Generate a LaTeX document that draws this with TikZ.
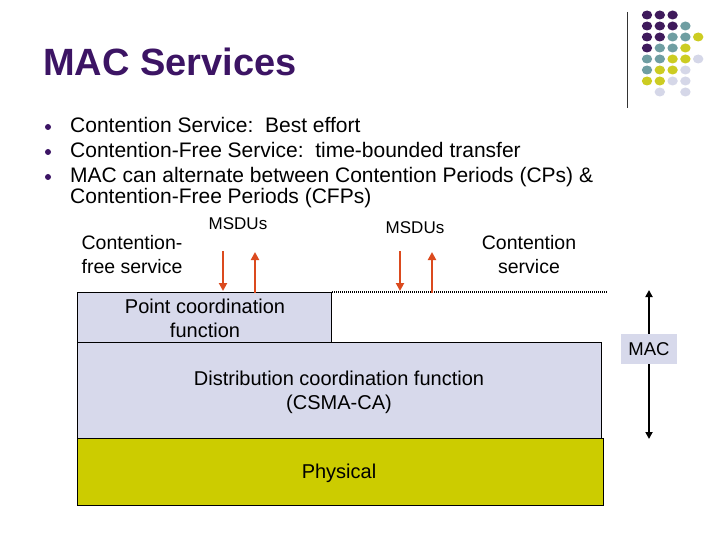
\documentclass[tikz,border=0pt]{standalone}
\usepackage{fontspec}
\setmainfont{Liberation Sans}
\usetikzlibrary{arrows.meta}
\definecolor{tpurple}{HTML}{3C1464}
\definecolor{dpurple}{HTML}{3F1A5C}
\definecolor{dteal}{HTML}{6F9EA2}
\definecolor{dyellow}{HTML}{CCCC22}
\definecolor{dlight}{HTML}{D5D7E8}
\definecolor{lav}{HTML}{D7D9EB}
\definecolor{phyyel}{HTML}{CCCC00}
\definecolor{arrred}{HTML}{DB4A1E}
\tikzset{
  bulletdot/.style={fill=tpurple, draw=none},
  bullettext/.style={anchor=base west, inner sep=0pt, font=\fontsize{21}{24}\selectfont},
  layerbox/.style={draw=black, line width=1.3pt, anchor=north west, inner sep=0pt, align=center, font=\fontsize{20}{24}\selectfont},
  lbl/.style={align=center, inner sep=0pt, font=\fontsize{19.5}{24}\selectfont},
  msdu/.style={inner sep=0pt, font=\fontsize{17}{20}\selectfont},
  flowarrow/.style={draw=arrred, line width=2.2pt, -{Triangle[length=8pt,width=8pt]}},
  macarrow/.style={draw=black, line width=1.8pt, {Triangle[length=7pt,width=7pt]}-{Triangle[length=7pt,width=7pt]}},
}
\begin{document}
\begin{tikzpicture}[x=1pt,y=-1pt]
\useasboundingbox (0,0) rectangle (720,540);
% decoration
\draw[line width=0.9pt, black!80] (627,12) -- (627,108);
\foreach \c/\r/\k in {1/1/dpurple,2/1/dpurple,3/1/dpurple,
  1/2/dpurple,2/2/dpurple,3/2/dpurple,4/2/dteal,
  1/3/dpurple,2/3/dpurple,3/3/dteal,4/3/dteal,5/3/dyellow,
  1/4/dpurple,2/4/dteal,3/4/dteal,4/4/dyellow,
  1/5/dteal,2/5/dteal,3/5/dyellow,4/5/dyellow,5/5/dlight,
  1/6/dteal,2/6/dyellow,3/6/dyellow,4/6/dlight,
  1/7/dyellow,2/7/dyellow,3/7/dlight,4/7/dlight,
  2/8/dlight,4/8/dlight}
  \fill[\k] ({647+12.8*(\c-1)},{15+11*(\r-1)}) ellipse [x radius=5.2pt, y radius=4.5pt];
% title
\node[anchor=base west, inner sep=0pt, text=tpurple, font=\fontsize{38}{44}\selectfont\bfseries] (title) at (43,76) {MAC Services};
% bullets
\fill[bulletdot] (48,127) circle (3pt);
\fill[bulletdot] (48,152) circle (3pt);
\fill[bulletdot] (48,177) circle (3pt);
\node[bullettext] (b1) at (70,133) {Contention Service:\ \ Best effort};
\node[bullettext] (b2) at (70,158) {Contention-Free Service:\ \ time-bounded transfer};
\node[bullettext] (b3) at (70,183) {MAC can alternate between Contention Periods (CPs) \&};
\node[bullettext] (b4) at (70,204) {Contention-Free Periods (CFPs)};
% labels
\node[lbl] (cfs) at (132,255) {Contention-\\free service};
\node[lbl] (cs) at (529,255) {Contention\\service};
\node[msdu] (m1) at (238,224) {MSDUs};
\node[msdu] (m2) at (415,228) {MSDUs};
% layers
\node[layerbox, fill=lav, minimum width=254pt, minimum height=50pt] (pcf) at (77,292) {};
\node[lbl, font=\fontsize{20}{24}\selectfont] (pcft) at (205,318) {Point coordination\\function};
\node[layerbox, fill=lav, minimum width=524pt, minimum height=96pt] (dcf) at (77,342) {};
\node[lbl, font=\fontsize{20}{24}\selectfont] (dcft) at (339,392) {Distribution coordination function\\(CSMA-CA)};
\node[layerbox, fill=phyyel, minimum width=526pt, minimum height=67pt] (phy) at (77,438) {};
\node[lbl, font=\fontsize{20}{24}\selectfont] (phyt) at (339,473) {Physical};
% dotted boundary
\coordinate (dotend) at (607,292);
\draw[line width=1.2pt, dash pattern=on 1pt off 1pt] (pcf.north east) -- (dotend);
% MSDU arrows
\coordinate (a1s) at (223,251);
\coordinate (a1e) at (223,291);
\coordinate (a2s) at (255,293);
\coordinate (a2e) at (255,252);
\coordinate (a3s) at (400,251);
\coordinate (a3e) at (400,291);
\coordinate (a4s) at (432,293);
\coordinate (a4e) at (432,252);
\draw[flowarrow] (a1s) -- (a1e);
\draw[flowarrow] (a2s) -- (a2e);
\draw[flowarrow] (a3s) -- (a3e);
\draw[flowarrow] (a4s) -- (a4e);
% MAC span
\coordinate (mtop) at (649,290);
\coordinate (mbot) at (649,439);
\draw[macarrow] (mtop) -- (mbot);
\node[fill=lav, minimum width=56pt, minimum height=30pt, inner sep=0pt, font=\fontsize{18.5}{22}\selectfont] (mac) at (649,349) {MAC};
\end{tikzpicture}
\end{document}
